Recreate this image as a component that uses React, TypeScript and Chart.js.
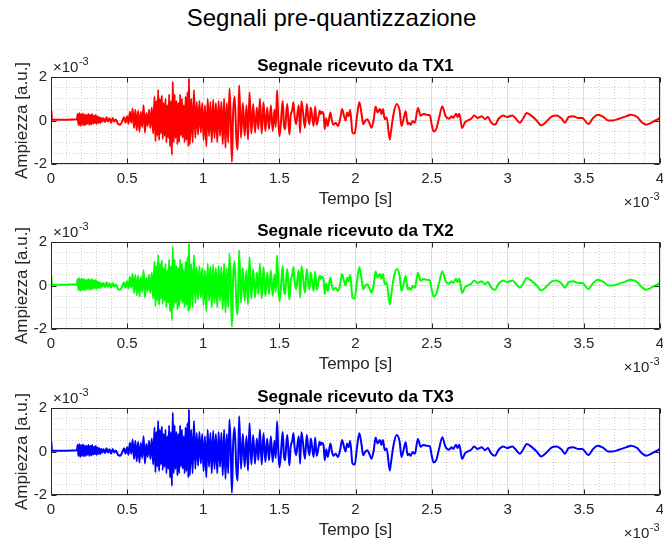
import React, { useEffect, useRef } from "react";
import { Chart, registerables } from "chart.js";

Chart.register(...registerables);

const FONT = '"Liberation Sans", Arial, Helvetica, sans-serif';

const figureTitle = "Segnali pre-quantizzazione";
const subplotTitles = [
  "Segnale ricevuto da TX1",
  "Segnale ricevuto da TX2",
  "Segnale ricevuto da TX3",
];
const seriesColors = ["#ff0000", "#00ff00", "#0000ff"];
const xAxisLabel = "Tempo [s]";
const yAxisLabel = "Ampiezza [a.u.]";
const xTickValues = [0, 0.5, 1, 1.5, 2, 2.5, 3, 3.5, 4];
const xTickLabels = ["0", "0.5", "1", "1.5", "2", "2.5", "3", "3.5", "4"];
const yTickValues = [-2, 0, 2];
const yTickLabels = ["-2", "0", "2"];
const exponentText = "-3";

// time in units of 1e-3 s
const timeMs = [
  0, 0.002, 0.006, 0.17,
  0.175, 0.18, 0.186, 0.192, 0.198, 0.204, 0.21, 0.216, 0.222, 0.228,
  0.234, 0.24, 0.246, 0.252, 0.258, 0.264, 0.27, 0.276, 0.282, 0.288,
  0.294, 0.3, 0.306, 0.312, 0.318, 0.324, 0.33, 0.337, 0.345, 0.355,
  0.365, 0.375, 0.385, 0.395, 0.405, 0.415, 0.425, 0.44, 0.455, 0.47,
  0.48, 0.49,
  0.5, 0.509, 0.518, 0.527, 0.536, 0.545, 0.554, 0.563, 0.572, 0.581,
  0.59, 0.599, 0.608, 0.617, 0.626, 0.635, 0.644, 0.653, 0.662, 0.671,
  0.68, 0.686, 0.692, 0.698, 0.704, 0.71, 0.716, 0.722, 0.728, 0.734,
  0.74, 0.746, 0.752, 0.758, 0.764, 0.77, 0.776, 0.782, 0.788, 0.794,
  0.8, 0.806, 0.812, 0.818, 0.824, 0.83, 0.836, 0.842, 0.848, 0.854,
  0.86, 0.866, 0.872, 0.878, 0.884, 0.89, 0.896, 0.902, 0.906, 0.912,
  0.921, 0.93, 0.939, 0.948, 0.957, 0.966, 0.975, 0.984, 0.993, 1.002,
  1.011, 1.02, 1.029, 1.038, 1.047, 1.056, 1.065, 1.074, 1.083, 1.092,
  1.101, 1.11, 1.119, 1.128, 1.137, 1.146, 1.155, 1.164, 1.172, 1.18,
  1.188, 1.196,
  1.206, 1.218, 1.226, 1.236, 1.248, 1.26, 1.272, 1.284, 1.294, 1.304,
  1.316, 1.328, 1.34, 1.352, 1.362, 1.372, 1.384, 1.396, 1.408, 1.42,
  1.432, 1.444, 1.456, 1.468, 1.476, 1.485, 1.492, 1.5, 1.508, 1.515,
  1.522,
  1.53, 1.538, 1.545, 1.552, 1.56, 1.566, 1.574, 1.585, 1.592, 1.6,
  1.61, 1.62, 1.628, 1.636, 1.645, 1.655, 1.668, 1.68, 1.69, 1.698,
  1.706, 1.715, 1.725, 1.735, 1.745, 1.755, 1.765, 1.772, 1.78, 1.79,
  1.798, 1.808, 1.818, 1.835, 1.845, 1.855, 1.87, 1.885, 1.9, 1.912,
  1.925, 1.935, 1.945, 1.955, 1.965, 1.98, 1.995, 2.01, 2.025, 2.04,
  2.05, 2.065, 2.078, 2.09, 2.105, 2.12, 2.132, 2.145, 2.16, 2.17,
  2.18, 2.192, 2.205, 2.225, 2.232, 2.25, 2.27, 2.29, 2.302, 2.318,
  2.33, 2.342, 2.352, 2.362, 2.375, 2.39, 2.41, 2.428, 2.445, 2.465,
  2.488, 2.5, 2.513, 2.53, 2.55, 2.57, 2.59, 2.615, 2.63, 2.642,
  2.66, 2.67, 2.682, 2.7, 2.72, 2.745, 2.76, 2.78, 2.8, 2.83,
  2.85, 2.87, 2.89, 2.915, 2.94, 2.97, 2.995, 3.03, 3.05, 3.08,
  3.1, 3.125, 3.16, 3.19, 3.22, 3.25, 3.29, 3.32, 3.355, 3.375,
  3.4, 3.43, 3.46, 3.49, 3.53, 3.56, 3.59, 3.63, 3.66, 3.69,
  3.73, 3.78, 3.81, 3.85, 3.88, 3.91, 3.935, 3.97, 4.0,
];

// amplitude in units of 1e-3 a.u. (the three received traces look the same)
const receivedAmplitude = [
  0, 0.5, 0.03, 0.06,
  0.3, -0.2, 0.35, -0.25, 0.3, -0.2, 0.32, -0.22, 0.28, -0.2,
  0.25, -0.15, 0.3, -0.2, 0.25, -0.18, 0.3, -0.15, 0.22, -0.12,
  0.25, -0.15, 0.18, -0.1, 0.15, -0.12, 0.12, -0.05, 0.12, -0.08,
  0.15, -0.05, 0.1, -0.1, 0.12, -0.05, 0.05, -0.15, -0.2, 0.0,
  0.15, -0.1,
  0.2, -0.15, 0.4, -0.1, 0.55, -0.35, 0.5, -0.45, 0.45, -0.5,
  0.4, -0.3, 0.7, -0.55, 0.35, -0.25, 0.5, -0.35, 0.6, -0.6,
  1.1, -0.95, 0.9, -0.7, 1.4, -0.9, 1.0, -0.6, 1.15, -0.85,
  0.8, -0.7, 1.0, -1.0, 0.7, -0.8, 1.2, -1.2, 0.9, -1.58,
  1.78, -1.0, 1.2, -0.8, 0.9, -1.1, 0.8, -1.0, 1.2, -0.7,
  1.0, -0.8, 0.7, -1.0, 1.1, -0.9, 1.3, -1.19, 1.94, -1.1,
  1.0, -1.0, 1.4, -0.8, 0.85, -0.65, 0.9, -0.55, 0.8, -0.9,
  0.7, -1.19, 1.0, -0.7, 0.85, -1.0, 0.95, -0.8, 0.8, -1.0,
  0.9, -0.7, 0.85, -1.1, 1.0, -1.25, 0.8, -1.0, 1.47, 0.2,
  -1.9, 0.3,
  1.1, -0.9, -1.34, 1.62, -0.8, 0.8, -0.7, 0.7, -0.87, 1.3,
  -0.6, 0.76, -0.56, 0.6, -0.4, 1.0, -0.6, 0.84, -0.48, 0.6,
  -0.4, 0.7, -0.48, 0.5, -0.3, 1.39, 0.2, -0.72, -0.3, 0.4,
  0.9,
  -0.2, -0.4, 0.3, 0.76, -0.1, -0.64, 0.2, 0.5, 0.84, 0.2,
  -0.17, 0.4, 0.7, -0.56, 0.89, 0.4, -0.33, 0.76, 0.1, -0.17,
  0.6, 0.2, -0.25, 0.64, -0.2, 0.1, 0.45, 0.3, 0.4, 0.3,
  -0.4, 0.1, -0.25, 0.37, 0.0, -0.2, -0.1, -0.25, 0.1, 0.53,
  0.2, 0.0, 0.37, 0.2, 0.48, -0.55, -0.6, 0.2, 0.84, 0.3,
  -0.17, 0.0, 0.06, -0.1, -0.33, 0.06, 0.64, 0.37, 0.53, 0.3,
  0.53, 0.06, 0.14, -0.87, -0.56, 0.3, 0.76, 0.45, -0.25, 0.14,
  0.42, -0.17, -0.1, -0.2, -0.02, -0.1, 0.58, 0.22, 0.3, 0.27,
  0.25, -0.17, -0.5, -0.4, 0.15, 0.66, 0.23, 0.08, 0.19, 0.12,
  0.31, 0.16, 0.31, -0.34, -0.08, 0.03, 0.08, 0.23, 0.12, 0.19,
  0.06, 0.16, -0.08, -0.2, 0.08, 0.23, 0.16, 0.23, 0.11, -0.1,
  0.08, 0.34, 0.19, 0.0, -0.23, -0.08, 0.19, 0.23, 0.08, -0.1,
  0.16, 0.19, 0.12, 0.11, -0.16, 0.11, 0.27, 0.16, 0.0, 0.0,
  0.08, 0.2, 0.27, 0.16, -0.08, -0.19, -0.13, 0.0, 0.12,
];

const seriesValues = [receivedAmplitude, receivedAmplitude, receivedAmplitude];

// layout (pixels)
const CANVAS_W = 663;
const CANVAS_H = 166;
const canvasTops = [44, 209, 375];

const xGrid: number[] = [];
for (let i = 0; i <= 40; i++) xGrid.push(i / 10);
const yGrid: number[] = [];
for (let i = 0; i <= 8; i++) yGrid.push(-2 + i / 2);

const isMajorX = (v: number) => xTickValues.some((t) => Math.abs(t - v) < 1e-9);
const isMajorY = (v: number) => yTickValues.some((t) => Math.abs(t - v) < 1e-9);

const MAJOR_GRID = "#dedede";
const MINOR_GRID = "#cdcdcd";
const AXIS_COLOR = "#262626";

const decorPlugin = {
  id: "matlabDecor",
  afterDatasetsDraw(chart: any) {
    const { ctx, chartArea: a, scales } = chart;
    const xs = scales.x;
    const ys = scales.y;
    ctx.save();
    ctx.strokeStyle = AXIS_COLOR;
    ctx.lineWidth = 1;
    const L = Math.round(a.left) + 0.5;
    const R = Math.round(a.right) - 0.5;
    const T = Math.round(a.top) + 0.5;
    const B = Math.round(a.bottom) - 0.5;
    ctx.beginPath();
    ctx.rect(L, T, R - L, B - T);
    for (const v of xTickValues) {
      const px = Math.round(xs.getPixelForValue(v)) + 0.5;
      ctx.moveTo(px, B);
      ctx.lineTo(px, B - 5);
      ctx.moveTo(px, T);
      ctx.lineTo(px, T + 5);
    }
    for (const v of yTickValues) {
      const py = Math.round(ys.getPixelForValue(v)) + 0.5;
      ctx.moveTo(L, py);
      ctx.lineTo(L + 5, py);
      ctx.moveTo(R, py);
      ctx.lineTo(R - 5, py);
    }
    ctx.stroke();

    ctx.fillStyle = AXIS_COLOR;
    ctx.textBaseline = "alphabetic";
    ctx.textAlign = "left";
    const big = `15px ${FONT}`;
    const small = `11px ${FONT}`;
    const base = "\u00d710";
    ctx.font = big;
    const wb = ctx.measureText(base).width;
    ctx.font = small;
    const ws = ctx.measureText(exponentText).width;

    let x0 = a.left + 2;
    let y0 = a.top - 5.5;
    ctx.font = big;
    ctx.fillText(base, x0, y0);
    ctx.font = small;
    ctx.fillText(exponentText, x0 + wb + 0.5, y0 - 7);

    x0 = a.right - wb - ws - 1;
    y0 = a.bottom + 43;
    ctx.font = big;
    ctx.fillText(base, x0, y0);
    ctx.font = small;
    ctx.fillText(exponentText, x0 + wb + 0.5, y0 - 7);
    ctx.restore();
  },
};

function buildConfig(index: number): any {
  const values = seriesValues[index];
  return {
    type: "line",
    data: {
      datasets: [
        {
          label: subplotTitles[index],
          data: timeMs.map((t, i) => ({ x: t, y: values[i] })),
          borderColor: seriesColors[index],
          backgroundColor: seriesColors[index],
          borderWidth: 2,
          pointRadius: 0,
          cubicInterpolationMode: "monotone",
          fill: false,
        },
      ],
    },
    options: {
      animation: false,
      responsive: false,
      maintainAspectRatio: false,
      devicePixelRatio: 1,
      events: [],
      layout: { padding: { left: 0, right: 3, top: 0, bottom: 0 } },
      plugins: {
        legend: { display: false },
        tooltip: { enabled: false },
        title: {
          display: true,
          fullSize: false,
          text: subplotTitles[index],
          color: "#000000",
          font: { family: FONT, size: 17, weight: "bold", lineHeight: 1.2 },
          padding: { top: 12, bottom: 0.6 },
        },
      },
      scales: {
        x: {
          type: "linear",
          min: 0,
          max: 4,
          afterBuildTicks: (s: any) => {
            s.ticks = xGrid.map((v) => ({ value: v }));
          },
          afterFit: (s: any) => {
            s.height = 46;
            s.paddingLeft = 0;
            s.paddingRight = 0;
          },
          ticks: {
            autoSkip: false,
            maxRotation: 0,
            minRotation: 0,
            padding: 6,
            color: AXIS_COLOR,
            font: { family: FONT, size: 15 },
            callback: (v: number) => {
              const k = xTickValues.findIndex((t) => Math.abs(t - v) < 1e-9);
              return k >= 0 ? xTickLabels[k] : "";
            },
          },
          grid: {
            drawTicks: false,
            lineWidth: 1,
            color: (c: any) => (c.tick && isMajorX(c.tick.value) ? MAJOR_GRID : MINOR_GRID),
          },
          border: {
            display: false,
            dash: (c: any) => (c.tick && !isMajorX(c.tick.value) ? [1, 2] : []),
          },
          title: {
            display: true,
            text: xAxisLabel,
            color: AXIS_COLOR,
            font: { family: FONT, size: 17, lineHeight: 1.2 },
            padding: { top: 0, bottom: 0 },
          },
        },
        y: {
          type: "linear",
          min: -2,
          max: 2,
          afterBuildTicks: (s: any) => {
            s.ticks = yGrid.map((v) => ({ value: v }));
          },
          afterFit: (s: any) => {
            s.width = 51;
          },
          ticks: {
            autoSkip: false,
            padding: 4,
            color: AXIS_COLOR,
            font: { family: FONT, size: 15 },
            callback: (v: number) => {
              const k = yTickValues.findIndex((t) => Math.abs(t - v) < 1e-9);
              return k >= 0 ? yTickLabels[k] : "";
            },
          },
          grid: {
            drawTicks: false,
            lineWidth: 1,
            color: (c: any) => (c.tick && isMajorY(c.tick.value) ? MAJOR_GRID : MINOR_GRID),
          },
          border: {
            display: false,
            dash: (c: any) => (c.tick && !isMajorY(c.tick.value) ? [1, 2] : []),
          },
          title: {
            display: true,
            text: yAxisLabel,
            color: AXIS_COLOR,
            font: { family: FONT, size: 17, lineHeight: 1.2 },
            padding: { top: 12, bottom: 0 },
          },
        },
      },
    },
    plugins: [decorPlugin],
  };
}

function SubPlot({ index }: { index: number }) {
  const ref = useRef<HTMLCanvasElement>(null);
  useEffect(() => {
    const chart = new Chart(ref.current as HTMLCanvasElement, buildConfig(index));
    return () => chart.destroy();
  }, [index]);
  return (
    <canvas
      ref={ref}
      width={CANVAS_W}
      height={CANVAS_H}
      style={{
        position: "absolute",
        left: 0,
        top: canvasTops[index],
        width: CANVAS_W,
        height: CANVAS_H,
      }}
    />
  );
}

export default function App() {
  return (
    <div
      style={{
        position: "fixed",
        left: 0,
        top: 0,
        width: 663,
        height: 544,
        background: "#ffffff",
        overflow: "hidden",
      }}
    >
      <div
        style={{
          position: "absolute",
          left: 0,
          top: 6,
          width: 663,
          textAlign: "center",
          fontFamily: FONT,
          fontSize: 24,
          lineHeight: "24px",
          color: "#000000",
        }}
      >
        {figureTitle}
      </div>
      {[0, 1, 2].map((i) => (
        <SubPlot key={i} index={i} />
      ))}
    </div>
  );
}
